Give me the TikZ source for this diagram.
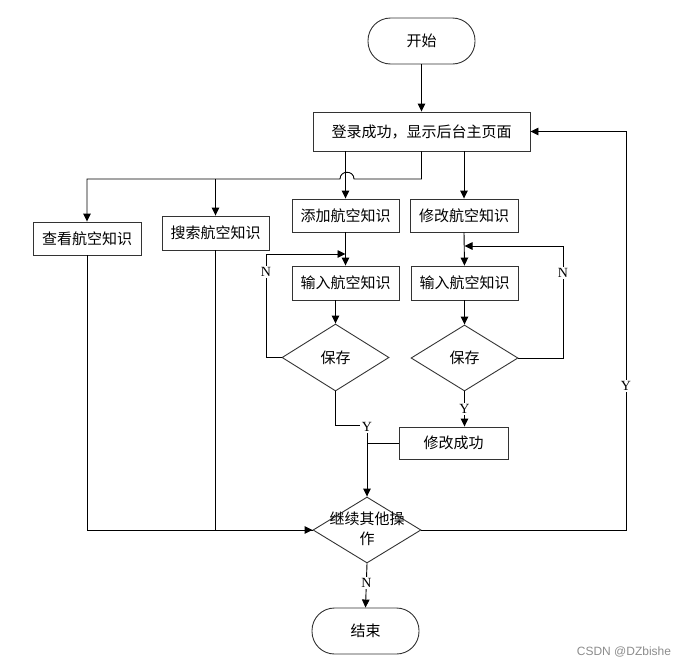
\documentclass[tikz,border=0pt]{standalone}
\usepackage{fontspec}
\setmainfont{Liberation Serif}
\newfontfamily\cjk{Noto Sans CJK SC}
\newfontfamily\wmfont{Liberation Sans}
\usetikzlibrary{shapes.geometric,arrows.meta}
\begin{document}
\begin{tikzpicture}[x=1pt,y=-1pt,
  every node/.style={inner sep=0pt},
  box/.style={draw=black!80,line width=0.9pt,rectangle,font=\cjk\fontsize{15}{18}\selectfont},
  term/.style={box,rounded corners=22.5pt,minimum width=107pt,minimum height=46pt},
  dia/.style={draw=black!80,line width=0.9pt,diamond,font=\cjk\fontsize{15}{18}\selectfont},
  conn/.style={line width=0.9pt,draw=black},
  arr/.style={conn,-{Triangle[length=8pt,width=7.5pt]}},
  yn/.style={fill=white,inner sep=1.5pt,font=\fontsize{14}{16}\selectfont},
]
\useasboundingbox (0,0) rectangle (687,667);

% nodes
\node[term] (start) at (421.5,41) {开始};
\node[box,minimum width=217pt,minimum height=39pt] (login) at (421.5,131.5) {登录成功，显示后台主页面};
\node[box,minimum width=107pt,minimum height=33pt] (add) at (345.5,215.5) {添加航空知识};
\node[box,minimum width=108pt,minimum height=33pt] (mod) at (464,215.5) {修改航空知识};
\node[box,minimum width=108pt,minimum height=33pt] (view) at (87,238.5) {查看航空知识};
\node[box,minimum width=107pt,minimum height=34pt] (search) at (215.5,233) {搜索航空知识};
\node[box,minimum width=107pt,minimum height=34pt] (inL) at (345.5,283) {输入航空知识};
\node[box,minimum width=107pt,minimum height=34pt] (inR) at (464.5,283) {输入航空知识};
\node[dia,minimum width=107pt,minimum height=67pt] (saveL) at (335.5,357.5) {保存};
\node[dia,minimum width=107pt,minimum height=66pt] (saveR) at (464.5,358) {保存};
\node[box,minimum width=109pt,minimum height=32pt] (modok) at (453.5,443) {修改成功};
\node[dia,minimum width=108pt,minimum height=66pt] (cont) at (367,530) {};
\node[align=center,font=\cjk\fontsize{15}{20}\selectfont] (conttext) at (367,528.5) {继续其他操\\作};
\node[term] (end) at (365.5,631) {结束};

% coordinates
\coordinate (j) at (421.5,179);
\coordinate (hopR) at (354,179);
\coordinate (hopL) at (340,179);
\coordinate (nL) at (266,254);
\coordinate (nR) at (563,246);
\coordinate (yL) at (367,425);
\coordinate (yR) at (626,530);

% connectors
\draw[arr] (start.south) -- (login.south |- start.south) -- (login.north);
\draw[arr] (login.south) -- (j) -- (hopR) .. controls (354,170) and (340,170) .. (hopL) -- (view.north |- j) -- (view.north);
\draw[arr] (search.north |- j) -- (search.north);
\draw[arr] (add.north |- login.south) -- (add.north);
\draw[arr] (mod.north |- login.south) -- (mod.north);
\draw[arr] (add.south) -- (inL.north);
\draw[arr] (saveL.north |- inL.south) -- (saveL.north);
\draw[arr] (saveL.west) -| (nL) -- (inL.north |- nL);
\node[yn] (NL) at (266,272) {N};
\draw[arr] (mod.south) -- (inR.north);
\draw[arr] (inR.south) -- (saveR.north);
\draw[arr] (saveR.east) -| (nR) -- (inR.north |- nR);
\node[yn] (NR) at (563,273) {N};
\draw[arr] (saveR.south) -- (saveR.south |- modok.north);
\node[yn] (YR) at (464.5,409) {Y};
\draw[arr] (saveL.south) |- (yL) -- (cont.north);
\node[yn] (YL) at (367,427) {Y};
\draw[conn] (modok.west) -- (cont.north |- modok.west);
\draw[arr] (view.south) |- (cont.west);
\draw[conn] (search.south) |- (cont.west);
\draw[arr] (cont.east) -- (yR) |- (login.east);
\node[yn] (YB) at (626,386) {Y};
\draw[arr] (cont.south) -- (end.north);
\node[yn] (NB) at (366.5,583) {N};

\node[font=\wmfont\fontsize{12}{14}\selectfont,text=black!45] (wm) at (624,652) {CSDN @DZbishe};
\end{tikzpicture}
\end{document}
